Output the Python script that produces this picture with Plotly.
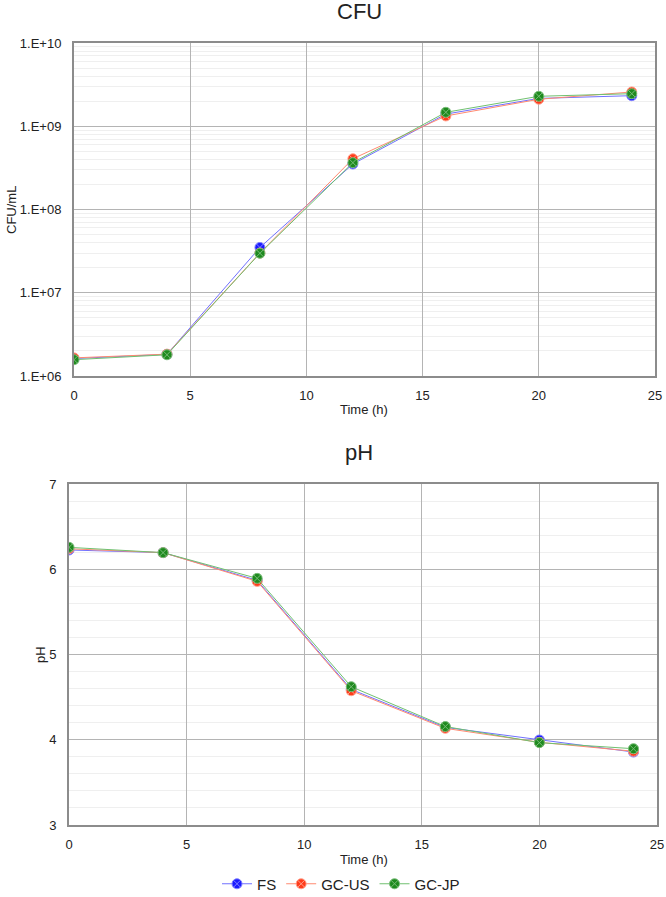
import plotly.graph_objects as go

time_h = [0, 4, 8, 12, 16, 20, 24]
series_names = ["FS", "GC-US", "GC-JP"]

cfu_fs = [1.62e6, 1.82e6, 3.5e7, 3.52e8, 1.40e9, 2.16e9, 2.33e9]
cfu_gcus = [1.65e6, 1.83e6, 3.0e7, 4.07e8, 1.33e9, 2.11e9, 2.58e9]
cfu_gcjp = [1.57e6, 1.80e6, 2.98e7, 3.65e8, 1.47e9, 2.29e9, 2.46e9]

ph_fs = [6.226, 6.195, 5.870, 4.590, 4.145, 3.997, 3.856]
ph_gcus = [6.240, 6.195, 5.858, 4.575, 4.134, 3.970, 3.865]
ph_gcjp = [6.257, 6.195, 5.893, 4.622, 4.155, 3.966, 3.895]

cfu_tickvals = [1e6, 1e7, 1e8, 1e9, 1e10]
cfu_ticktext = ["1.E+06", "1.E+07", "1.E+08", "1.E+09", "1.E+10"]
cfu_minor = [k * 10 ** e for e in range(6, 10) for k in range(2, 10)]

line_colors = ["#7070ff", "#ff8a70", "#70c070"]
marker_colors = ["#1a1aff", "#ff3b1a", "#1f8a1f"]
marker_x_colors = ["#8080ff", "#ff9f8a", "#78bc78"]

W, H = 666, 897
FONT = "Liberation Sans, Arial, sans-serif"

fig = go.Figure()

cfu_sets = [cfu_fs, cfu_gcus, cfu_gcjp]
ph_sets = [ph_fs, ph_gcus, ph_gcjp]

for i, name in enumerate(series_names):
    mk = dict(symbol="circle-x", size=10, color=marker_colors[i],
              line=dict(color=marker_x_colors[i], width=1))
    fig.add_trace(go.Scatter(x=time_h, y=cfu_sets[i], name=name, mode="lines+markers",
                             line=dict(color=line_colors[i], width=1), marker=mk,
                             xaxis="x", yaxis="y", legendgroup=name, showlegend=True))
for i, name in enumerate(series_names):
    mk = dict(symbol="circle-x", size=10, color=marker_colors[i],
              line=dict(color=marker_x_colors[i], width=1))
    fig.add_trace(go.Scatter(x=time_h, y=ph_sets[i], name=name, mode="lines+markers",
                             line=dict(color=line_colors[i], width=1), marker=mk,
                             xaxis="x2", yaxis="y2", legendgroup=name, showlegend=False))

def px(x):
    return x / W

def py(y):
    return 1 - y / H

border = "#8c8c8c"
major = "#b4b4b4"
minor_c = "#efefef"
tickfont = dict(family=FONT, size=13, color="#222222")

common_x = dict(range=[0, 25], dtick=5, tick0=0, showgrid=True, gridcolor=major, gridwidth=1,
                showline=True, linecolor=border, linewidth=2, mirror=True, zeroline=False,
                automargin=False,
                ticks="outside", ticklen=6, tickcolor="rgba(0,0,0,0)", tickfont=tickfont)

fig.update_layout(
    width=W, height=H,
    margin=dict(l=0, r=0, t=0, b=0, autoexpand=False),
    paper_bgcolor="white", plot_bgcolor="white",
    font=dict(family=FONT, color="#222222"),
    xaxis=dict(domain=[px(74), px(655)], anchor="y", **common_x),
    yaxis=dict(domain=[py(376), py(43)], anchor="x", type="log", range=[6, 10],
               tickmode="array", tickvals=cfu_tickvals, ticktext=cfu_ticktext,
               showgrid=True, gridcolor=major, gridwidth=1,
               minor=dict(tickmode="array", tickvals=cfu_minor, showgrid=True,
                          gridcolor=minor_c, gridwidth=1, ticks=""),
               showline=True, linecolor=border, linewidth=2, mirror=True, zeroline=False,
               automargin=False,
               ticks="outside", ticklen=8, tickcolor="rgba(0,0,0,0)", tickfont=tickfont),
    xaxis2=dict(domain=[px(69), px(657)], anchor="y2", **common_x),
    yaxis2=dict(domain=[py(825), py(484)], anchor="x2", range=[3, 7], dtick=1,
                showgrid=True, gridcolor=major, gridwidth=1,
                minor=dict(dtick=0.2, showgrid=True, gridcolor=minor_c, gridwidth=1, ticks=""),
                showline=True, linecolor=border, linewidth=2, mirror=True, zeroline=False,
                automargin=False,
                ticks="outside", ticklen=8, tickcolor="rgba(0,0,0,0)", tickfont=tickfont),
    legend=dict(orientation="h", x=px(341), xanchor="center", y=py(884), yanchor="middle",
                font=dict(family=FONT, size=15, color="#222222"), itemwidth=30,
                tracegroupgap=0, bgcolor="rgba(0,0,0,0)"),
    showlegend=True,
)

annots = [
    dict(text="CFU", x=px(359), y=py(11), size=22, angle=0),
    dict(text="pH", x=px(359), y=py(452), size=22, angle=0),
    dict(text="Time (h)", x=px(364), y=py(409), size=13, angle=0),
    dict(text="Time (h)", x=px(364), y=py(859), size=13, angle=0),
    dict(text="CFU/mL", x=px(11), y=py(210), size=13, angle=-90),
    dict(text="pH", x=px(40), y=py(655), size=13, angle=-90),
]
for a in annots:
    fig.add_annotation(text=a["text"], x=a["x"], y=a["y"], xref="paper", yref="paper",
                       xanchor="center", yanchor="middle", showarrow=False, textangle=a["angle"],
                       font=dict(family=FONT, size=a["size"], color="#222222"))

fig.write_html("out.html",
               config={"displayModeBar": False},
               post_script="document.body.style.margin='0';document.body.style.overflow='hidden';")
